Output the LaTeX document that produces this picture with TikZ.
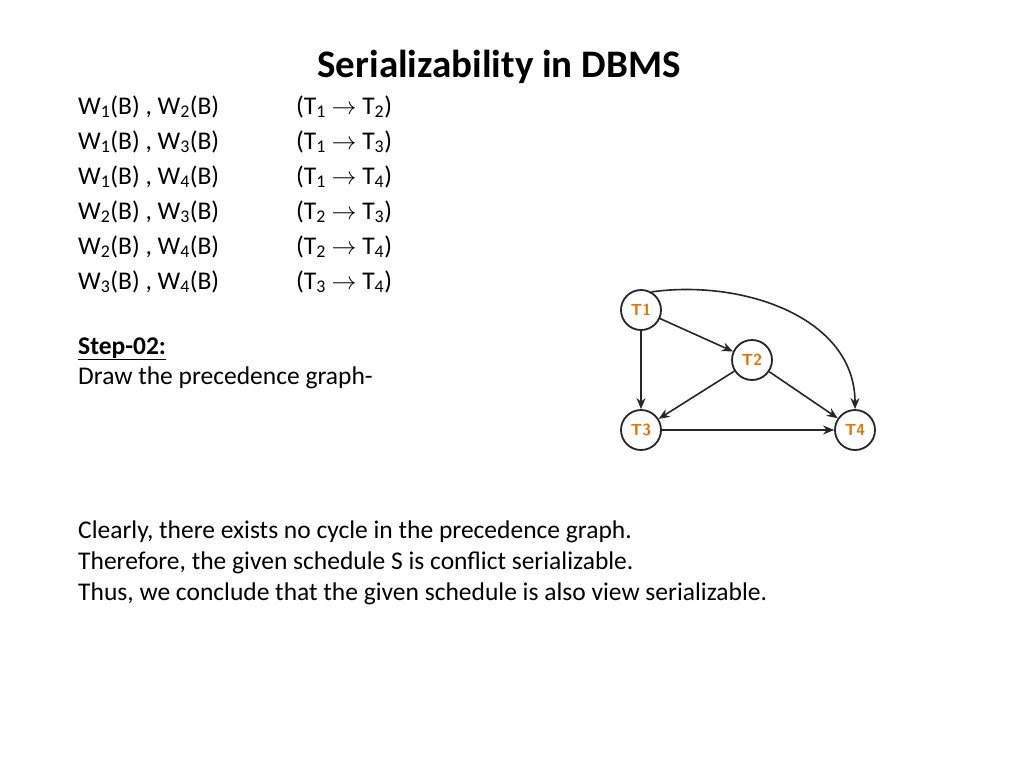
\documentclass[tikz,border=0pt]{standalone}
\usepackage{fontspec}
\setmainfont{Carlito}
\usetikzlibrary{arrows.meta}
\begin{document}
\begin{tikzpicture}[x=1pt,y=-1pt,
  txt/.style={anchor=base west,inner sep=0pt,font=\fontsize{25.5}{30}\selectfont},
  tn/.style={circle,draw=black!85,line width=1.8pt,minimum size=40pt,inner sep=0pt,text=orange!90!black,font=\sffamily\bfseries\fontsize{16}{18}\selectfont},
  ar/.style={-{Stealth[length=11pt,width=9pt]},line width=1.6pt,black!85}]
\useasboundingbox (0,0) rectangle (1024,768);
\node[inner sep=0pt,font=\bfseries\fontsize{39}{44}\selectfont] (title) at (499,67) {Serializability in DBMS};
\node[txt] (a1) at (78,114) {W\textsubscript{1}(B) , W\textsubscript{2}(B)};
\node[txt] (a2) at (78,149) {W\textsubscript{1}(B) , W\textsubscript{3}(B)};
\node[txt] (a3) at (78,184) {W\textsubscript{1}(B) , W\textsubscript{4}(B)};
\node[txt] (a4) at (78,219) {W\textsubscript{2}(B) , W\textsubscript{3}(B)};
\node[txt] (a5) at (78,254) {W\textsubscript{2}(B) , W\textsubscript{4}(B)};
\node[txt] (a6) at (78,289) {W\textsubscript{3}(B) , W\textsubscript{4}(B)};
\node[txt] (b1) at (296,114) {(T\textsubscript{1} $\rightarrow$ T\textsubscript{2})};
\node[txt] (b2) at (296,149) {(T\textsubscript{1} $\rightarrow$ T\textsubscript{3})};
\node[txt] (b3) at (296,184) {(T\textsubscript{1} $\rightarrow$ T\textsubscript{4})};
\node[txt] (b4) at (296,219) {(T\textsubscript{2} $\rightarrow$ T\textsubscript{3})};
\node[txt] (b5) at (296,254) {(T\textsubscript{2} $\rightarrow$ T\textsubscript{4})};
\node[txt] (b6) at (296,289) {(T\textsubscript{3} $\rightarrow$ T\textsubscript{4})};
\node[txt,font=\bfseries\fontsize{25.5}{30}\selectfont] (s) at (78,354) {\underline{Step-02:}};
\node[txt] (d) at (78,384) {Draw the precedence graph-};
\node[txt] (c1) at (78,538) {Clearly, there exists no cycle in the precedence graph.};
\node[txt] (c2) at (78,569) {Therefore, the given schedule S is conflict serializable.};
\node[txt] (c3) at (78,600) {Thus, we conclude that the given schedule is also view serializable.};
\node[tn] (T1) at (641,310) {T1};
\node[tn] (T2) at (752,360) {T2};
\node[tn] (T3) at (641,430) {T3};
\node[tn] (T4) at (855,430) {T4};
\draw[ar] (T1) -- (T2);
\draw[ar] (T1) -- (T3);
\draw[ar] (T2) -- (T3);
\draw[ar] (T2) -- (T4);
\draw[ar] (T3) -- (T4);
\draw[ar] (T1.60) to[out=8,in=90] (T4.north);
\end{tikzpicture}
\end{document}
